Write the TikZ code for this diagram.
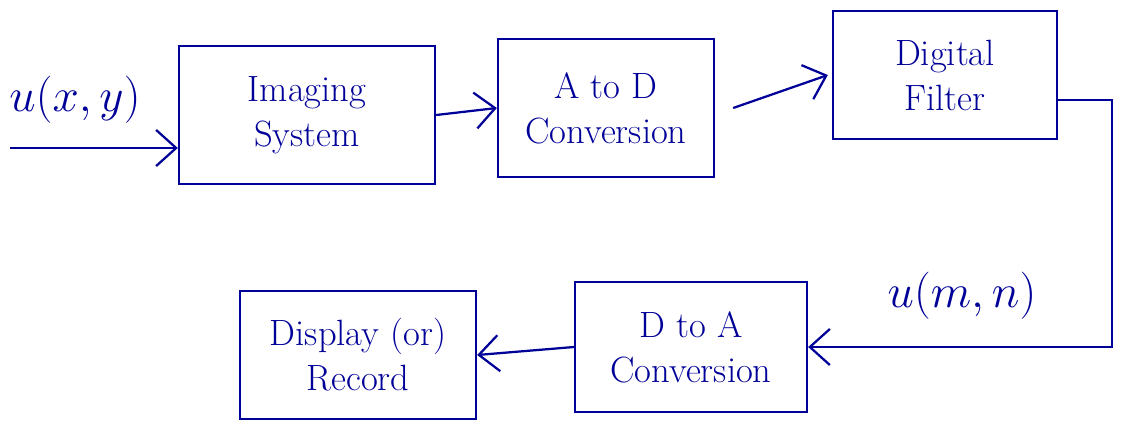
\documentclass[tikz,border=0pt]{standalone}
\usetikzlibrary{arrows.meta}
\colorlet{ink}{blue!60!black}

\begin{document}
\begin{tikzpicture}[x=0.025cm,y=-0.025cm,
    blk/.style={draw=ink,line width=1.6pt,text=ink,align=center,font=\fontsize{26}{32}\selectfont,inner sep=2pt},
    flow/.style={draw=ink,line width=1.6pt,-{Straight Barb[length=5mm,width=9mm]}},
    lbl/.style={text=ink,font=\Huge,scale=1.35}]
    \useasboundingbox (0,0) rectangle (1136,430);
    % Boxes
    \node[blk,minimum width=6.4cm,minimum height=3.45cm] (img) at (307,115) {Imaging\\System};
    \node[blk,minimum width=5.4cm,minimum height=3.45cm] (atod) at (606,108) {A to D\\Conversion};
    \node[blk,minimum width=5.6cm,minimum height=3.2cm] (filt) at (945,75) {Digital\\Filter};
    \node[blk,minimum width=5.8cm,minimum height=3.25cm] (dtoa) at (691,347) {D to A\\Conversion};
    \node[blk,minimum width=5.9cm,minimum height=3.2cm] (disp) at (358,355) {Display (or)\\Record};
    % Labels
    \node[lbl] (ux) at (75,100) {$u(x,y)$};
    \node[lbl] (umn) at (962,296) {$u(m,n)$};
    % Wires
    \coordinate (in) at (10,148);
    \coordinate (turn) at (1112,100);
    \draw[flow] (in) -- (in -| img.west);
    \draw[flow] (img.east) -- (atod.west);
    \draw[flow] ([xshift=0.45cm]atod.east) -- ([xshift=-0.1cm]filt.west);
    \draw[flow] (filt.east |- turn) -- (turn) |- (dtoa.east);
    \draw[flow] (dtoa.west) -- (disp.east);
\end{tikzpicture}
\end{document}
